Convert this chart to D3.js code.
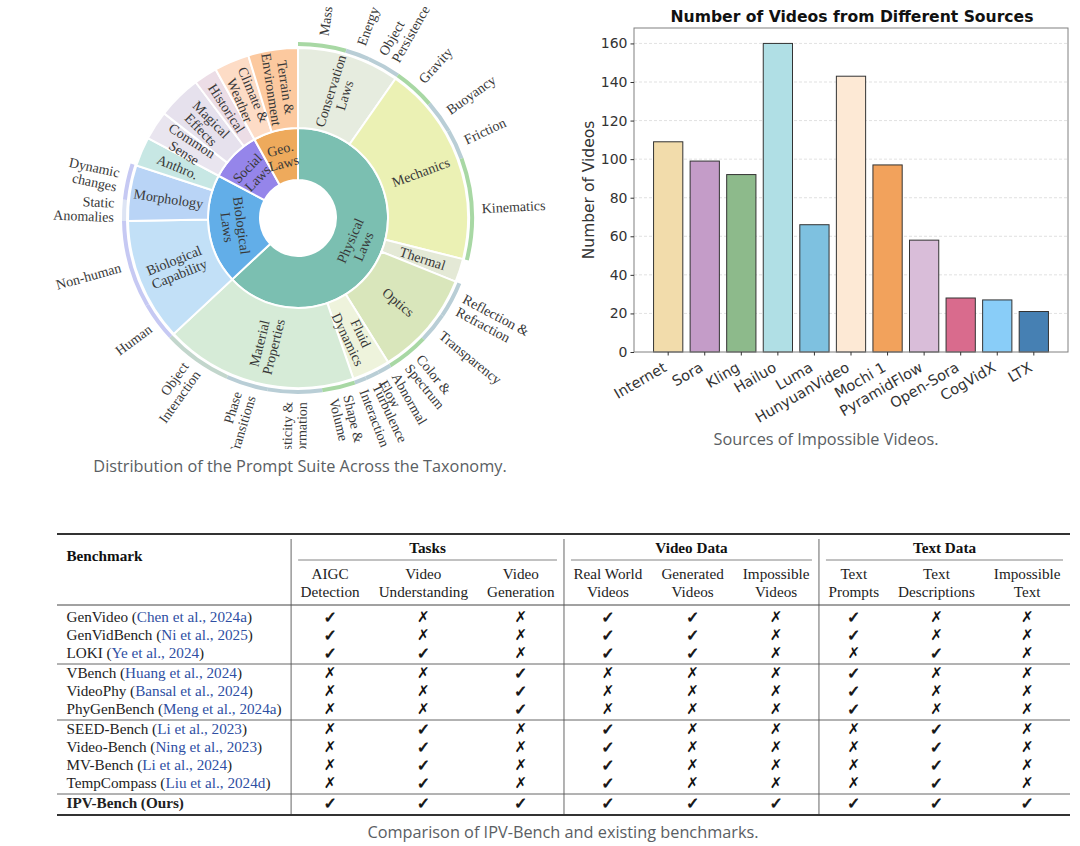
<!DOCTYPE html>
<html><head><meta charset="utf-8">
<script src="https://cdn.jsdelivr.net/npm/d3@7"></script>
<style>body{margin:0;background:#fff} svg{display:block}</style>
</head><body>
<svg id="fig" width="1080" height="846"></svg>
<script>
// ================= DATA =================
// Sunburst taxonomy (values = share of the prompt suite, read as angular share)
const domains = ["Physical\nLaws", "Biological\nLaws", "Social\nLaws", "Geo.\nLaws"];
const categories = [
  ["Conservation\nLaws", "Physical\nLaws", null],
  ["Mechanics", "Physical\nLaws", null],
  ["Thermal", "Physical\nLaws", 8],
  ["Optics", "Physical\nLaws", null],
  ["Fluid\nDynamics", "Physical\nLaws", null],
  ["Material\nProperties", "Physical\nLaws", null],
  ["Biological\nCapability", "Biological\nLaws", null],
  ["Morphology", "Biological\nLaws", null],
  ["Anthro.", "Biological\nLaws", 10],
  ["Common\nSense", "Social\nLaws", 10],
  ["Magical\nEffects", "Social\nLaws", 15],
  ["Historical", "Social\nLaws", 8],
  ["Climate &\nWeather", "Geo.\nLaws", 12],
  ["Terrain &\nEnvironment", "Geo.\nLaws", 17]
];
const subcategories = [
  ["Mass", "Conservation\nLaws", 16],
  ["Energy", "Conservation\nLaws", 8],
  ["Object\nPersistence", "Conservation\nLaws", 11],
  ["Gravity", "Mechanics", 14],
  ["Buoyancy", "Mechanics", 11],
  ["Friction", "Mechanics", 10],
  ["Kinematics", "Mechanics", 34],
  ["Reflection &\nRefraction", "Optics", 12],
  ["Transparency", "Optics", 10],
  ["Color &\nSpectrum", "Optics", 14],
  ["Abnormal\nFlow", "Fluid\nDynamics", 4.5],
  ["Turbulence", "Fluid\nDynamics", 4.5],
  ["Interaction", "Fluid\nDynamics", 4],
  ["Shape &\nVolume", "Material\nProperties", 11],
  ["Plasticity &\nDeformation", "Material\nProperties", 18],
  ["Phase\nTransitions", "Material\nProperties", 14],
  ["Object\nInteraction", "Material\nProperties", 23],
  ["Human", "Biological\nCapability", 13],
  ["Non-human", "Biological\nCapability", 29],
  ["Static\nAnomalies", "Morphology", 7],
  ["Dynamic\nchanges", "Morphology", 12]
];

// Bar chart
const sources = ["Internet", "Sora", "Kling", "Hailuo", "Luma", "HunyuanVideo", "Mochi 1", "PyramidFlow", "Open-Sora", "CogVidX", "LTX"];
const videoCounts = [109, 99, 92, 160, 66, 143, 97, 58, 28, 27, 21];
const yTicks = [0, 20, 40, 60, 80, 100, 120, 140, 160];

// Table
const groupNames = ["Tasks", "Video Data", "Text Data"];
const columnHeads = [["AIGC", "Detection"], ["Video", "Understanding"], ["Video", "Generation"],
  ["Real World", "Videos"], ["Generated", "Videos"], ["Impossible", "Videos"],
  ["Text", "Prompts"], ["Text", "Descriptions"], ["Impossible", "Text"]];
const benchmarks = ["GenVideo", "GenVidBench", "LOKI", "VBench", "VideoPhy", "PhyGenBench",
  "SEED-Bench", "Video-Bench", "MV-Bench", "TempCompass", "IPV-Bench (Ours)"];
const citations = ["Chen et al., 2024a", "Ni et al., 2025", "Ye et al., 2024", "Huang et al., 2024",
  "Bansal et al., 2024", "Meng et al., 2024a", "Li et al., 2023", "Ning et al., 2023",
  "Li et al., 2024", "Liu et al., 2024d", null];
const rowGroups = [0, 0, 0, 1, 1, 1, 2, 2, 2, 2, 3];
const support = [
  [1,0,0, 1,1,0, 1,0,0],
  [1,0,0, 1,1,0, 1,0,0],
  [1,1,0, 1,1,0, 0,1,0],
  [0,0,1, 0,0,0, 1,0,0],
  [0,0,1, 0,0,0, 1,0,0],
  [0,0,1, 0,0,0, 1,0,0],
  [0,1,0, 1,0,0, 0,1,0],
  [0,1,0, 1,0,0, 0,1,0],
  [0,1,0, 1,0,0, 0,1,0],
  [0,1,0, 1,0,0, 0,1,0],
  [1,1,1, 1,1,1, 1,1,1]
];

// ================= STYLES =================
const SERIF = "'Liberation Serif','Times New Roman',serif";
const SANS = "'DejaVu Sans',sans-serif";
const CAP = "'Open Sans','Roboto',sans-serif";
const sbColors = {
  "Physical\nLaws": "#7bbfb1", "Biological\nLaws": "#62aee8", "Social\nLaws": "#9585ea", "Geo.\nLaws": "#eeaa5c",
  "Conservation\nLaws": "#e6ecdf", "Mechanics": "#ebf1b4", "Thermal": "#e4e9d6", "Optics": "#d9e6bb",
  "Fluid\nDynamics": "#eef3dc", "Material\nProperties": "#d6ebd7", "Biological\nCapability": "#c2e0f7",
  "Morphology": "#b9d4f6", "Anthro.": "#c7e7e4", "Common\nSense": "#e9e5ef", "Magical\nEffects": "#e6e1ed",
  "Historical": "#ecdde6", "Climate &\nWeather": "#fddcc6", "Terrain &\nEnvironment": "#fcc99f"
};
const G = "#a8d8a4", B = "#b9ced6", L = "#c6c9f3", P = "#dde4f4";
const leafColors = {
  "Mass": G, "Energy": B, "Object\nPersistence": B, "Gravity": G, "Buoyancy": B, "Friction": B, "Kinematics": G,
  "Reflection &\nRefraction": B, "Transparency": B, "Color &\nSpectrum": G, "Abnormal\nFlow": B, "Turbulence": B,
  "Interaction": B, "Shape &\nVolume": G, "Plasticity &\nDeformation": B, "Phase\nTransitions": B,
  "Object\nInteraction": "#c2d6cc", "Human": L, "Non-human": L, "Static\nAnomalies": P, "Dynamic\nchanges": L
};
const barColors = ["#f2dcab", "#c49cc8", "#8dba8b", "#b0dfe5", "#7ec1e0", "#fde9d5", "#f2a25c", "#d9bdd9", "#d96b8d", "#89cdf8", "#4680b3"];

const svg = d3.select("#fig");
const defs = svg.append("defs");
defs.append("clipPath").attr("id", "sbclip").append("rect").attr("x", 0).attr("y", 0).attr("width", 570).attr("height", 449);

function multiline(sel, text, lh) {
  const lines = text.split("\n");
  lines.forEach((l, i) => sel.append("tspan").attr("x", 0).attr("y", (i - (lines.length - 1) / 2) * lh).attr("dy", "0.35em").text(l));
}

// ================= SUNBURST =================
const cx = 298, cy = 218;
const sb = svg.append("g").attr("clip-path", "url(#sbclip)").append("g").attr("transform", `translate(${cx},${cy})`);
const rows = [{id: "root"}];
domains.forEach(d => rows.push({id: d, parent: "root"}));
categories.forEach(([n, p, v]) => rows.push({id: n, parent: p, value: v}));
subcategories.forEach(([n, p, v]) => rows.push({id: n, parent: p, value: v}));
const root = d3.stratify().id(d => d.id).parentId(d => d.parent)(rows).sum(d => d.value || 0);
d3.partition().size([2 * Math.PI, 1])(root);
const rIn = [0, 38, 90, 172], rOut = [0, 90, 170, 176];
const arc = d3.arc().startAngle(d => d.x0).endAngle(d => d.x1)
  .innerRadius(d => rIn[d.depth]).outerRadius(d => rOut[d.depth]);
const nodes = root.descendants().filter(d => d.depth > 0);
sb.selectAll("path.ring").data(nodes.filter(d => d.depth < 3)).join("path").attr("class", "ring")
  .attr("d", arc).attr("fill", d => sbColors[d.id]).attr("stroke", "#fff").attr("stroke-width", 2);
sb.selectAll("path.leaf").data(nodes.filter(d => d.depth === 3)).join("path").attr("class", "leaf")
  .attr("d", arc).attr("fill", d => leafColors[d.id]);

nodes.forEach(d => {
  const a = (d.x0 + d.x1) / 2, A = a * 180 / Math.PI;
  let r, rot, anchor = "middle";
  if (d.depth === 1) { r = 64; rot = (A > 90 && A < 270) ? A - 180 : A; }
  else if (d.depth === 2) { r = 131; rot = A < 180 ? A - 90 : A + 90; }
  else { r = 184; rot = A < 180 ? A - 90 : A + 90; anchor = A < 180 ? "start" : "end"; }
  const t = sb.append("text")
    .attr("transform", `translate(${r * Math.sin(a)},${-r * Math.cos(a)}) rotate(${rot})`)
    .attr("text-anchor", anchor).attr("font-family", SERIF).attr("font-size", 14).attr("fill", "#383838");
  multiline(t, d.id, 14.5);
});

svg.append("text").attr("x", 300).attr("y", 466).attr("dy", "0.35em").attr("text-anchor", "middle")
  .attr("font-family", CAP).attr("font-size", 16.3).attr("fill", "#5a5e63")
  .text("Distribution of the Prompt Suite Across the Taxonomy.");

// ================= BAR CHART =================
const bx0 = 634, bx1 = 1068, by0 = 28, by1 = 352;
const x = d3.scaleBand().domain(sources).range([bx0, bx1]).paddingInner(0.2).paddingOuter(0.535);
const y = d3.scaleLinear().domain([0, 168]).range([by1, by0]);
const bc = svg.append("g");
bc.append("g").selectAll("line").data(yTicks.slice(1)).join("line")
  .attr("x1", bx0).attr("x2", bx1).attr("y1", d => y(d)).attr("y2", d => y(d))
  .attr("stroke", "#d9d9d9").attr("stroke-width", 0.8).attr("stroke-dasharray", "3,2");
bc.append("g").selectAll("rect").data(videoCounts).join("rect")
  .attr("x", (d, i) => x(sources[i])).attr("width", x.bandwidth())
  .attr("y", d => y(d)).attr("height", d => y(0) - y(d))
  .attr("fill", (d, i) => barColors[i]).attr("stroke", "#333").attr("stroke-width", 1);
bc.append("rect").attr("x", bx0).attr("y", by0).attr("width", bx1 - bx0).attr("height", by1 - by0)
  .attr("fill", "none").attr("stroke", "#808080").attr("stroke-width", 1);
const yAx = bc.append("g").attr("transform", `translate(${bx0},0)`)
  .call(d3.axisLeft(y).tickValues(yTicks).tickSize(3.5).tickPadding(3));
yAx.select(".domain").remove();
yAx.selectAll("line").attr("stroke", "#333");
yAx.selectAll("text").attr("font-family", SANS).attr("font-size", 14).attr("fill", "#333");
const xAx = bc.append("g").attr("transform", `translate(0,${by1})`)
  .call(d3.axisBottom(x).tickSize(3.5));
xAx.select(".domain").remove();
xAx.selectAll("line").attr("stroke", "#333");
xAx.selectAll("text").attr("font-family", SANS).attr("font-size", 14.5).attr("fill", "#333")
  .attr("text-anchor", "end").attr("x", 0).attr("y", 0).attr("dy", "0.35em")
  .attr("transform", "translate(-3,14) rotate(-30)");
bc.append("text").attr("x", (bx0 + bx1) / 2 + 1).attr("y", 22).attr("text-anchor", "middle")
  .attr("font-family", SANS).attr("font-weight", "bold").attr("font-size", 15.6).attr("fill", "#111")
  .text("Number of Videos from Different Sources");
bc.append("text").attr("transform", `translate(589,${(by0 + by1) / 2}) rotate(-90)`).attr("dy", "0.35em")
  .attr("text-anchor", "middle").attr("font-family", SANS).attr("font-size", 15.5).attr("fill", "#333")
  .text("Number of Videos");
svg.append("text").attr("x", 826).attr("y", 439).attr("dy", "0.35em").attr("text-anchor", "middle")
  .attr("font-family", CAP).attr("font-size", 16.3).attr("fill", "#5a5e63")
  .text("Sources of Impossible Videos.");

// ================= TABLE =================
const tb = svg.append("g");
const FS = 15.2;
function textW(str, weight) {
  const t = tb.append("text").attr("font-family", SERIF).attr("font-size", FS).attr("font-weight", weight || "normal").text(str);
  const w = t.node().getComputedTextLength(); t.remove(); return w;
}
const tx0 = 57, tx1 = 1070;
const benchW = d3.max(benchmarks, (b, i) => textW(citations[i] ? `${b} (${citations[i]})` : b, citations[i] ? "normal" : "bold"));
const colW = columnHeads.map(c => d3.max(c, s => textW(s)));
const pad = (tx1 - tx0 - benchW - d3.sum(colW)) / (2 * (colW.length + 1));
const bounds = [tx0, tx0 + benchW + 2 * pad];
colW.forEach(w => bounds.push(bounds[bounds.length - 1] + w + 2 * pad));
const colX = d3.scaleOrdinal().domain(d3.range(colW.length)).range(colW.map((w, i) => (bounds[i + 1] + bounds[i + 2]) / 2));
const groupSpan = g => [bounds[1 + g * 3], bounds[4 + g * 3]];
const rowY = i => 617 + i * 18 + rowGroups[i] * 2;

const ruleTop = 534, ruleHead = 605, ruleBot = 815;
tb.append("line").attr("x1", tx0).attr("x2", tx1).attr("y1", ruleTop).attr("y2", ruleTop).attr("stroke", "#333").attr("stroke-width", 1.8);
tb.append("line").attr("x1", tx0).attr("x2", tx1).attr("y1", ruleBot).attr("y2", ruleBot).attr("stroke", "#333").attr("stroke-width", 1.8);
tb.append("line").attr("x1", tx0).attr("x2", tx1).attr("y1", ruleHead).attr("y2", ruleHead).attr("stroke", "#444").attr("stroke-width", 1);
for (let i = 1; i < benchmarks.length; i++) {
  if (rowGroups[i] !== rowGroups[i - 1]) {
    const yy = (rowY(i) + rowY(i - 1)) / 2 + 1;
    tb.append("line").attr("x1", tx0).attr("x2", tx1).attr("y1", yy).attr("y2", yy).attr("stroke", "#555").attr("stroke-width", 0.9);
  }
}
[1, 4, 7].forEach(k => tb.append("line").attr("x1", bounds[k]).attr("x2", bounds[k]).attr("y1", ruleTop + 5).attr("y2", ruleBot - 1)
  .attr("stroke", "#555").attr("stroke-width", 0.9));
groupNames.forEach((g, gi) => {
  const [a, b] = groupSpan(gi);
  tb.append("text").attr("x", (a + b) / 2).attr("y", 548).attr("dy", "0.35em").attr("text-anchor", "middle")
    .attr("font-family", SERIF).attr("font-weight", "bold").attr("font-size", FS).attr("fill", "#111").text(g);
  tb.append("line").attr("x1", a + 7).attr("x2", b - 7).attr("y1", 560).attr("y2", 560).attr("stroke", "#666").attr("stroke-width", 0.8);
});
tb.append("text").attr("x", tx0 + pad).attr("y", 556).attr("dy", "0.35em").attr("font-family", SERIF)
  .attr("font-weight", "bold").attr("font-size", FS).attr("fill", "#111").text("Benchmark");
columnHeads.forEach((c, i) => c.forEach((s, j) => tb.append("text").attr("x", colX(i)).attr("y", 574 + j * 17.5)
  .attr("dy", "0.35em").attr("text-anchor", "middle").attr("font-family", SERIF).attr("font-size", FS).attr("fill", "#222").text(s)));
benchmarks.forEach((b, i) => {
  const t = tb.append("text").attr("x", tx0 + pad).attr("y", rowY(i)).attr("dy", "0.35em")
    .attr("font-family", SERIF).attr("font-size", FS).attr("fill", "#222");
  if (citations[i]) {
    t.append("tspan").text(b + " (");
    t.append("tspan").attr("fill", "#2f4fa3").text(citations[i]);
    t.append("tspan").text(")");
  } else {
    t.attr("font-weight", "bold").text(b);
  }
  support[i].forEach((v, j) => tb.append("text").attr("x", colX(j)).attr("y", rowY(i)).attr("dy", "0.35em")
    .attr("text-anchor", "middle").attr("font-family", SANS).attr("font-weight", "bold")
    .attr("font-size", v ? 16 : 15).attr("fill", "#111")
    .attr("stroke", v ? "#111" : "none").attr("stroke-width", v ? 0.7 : 0)
    .text(v ? "\u2713" : "\u2717"));
});
svg.append("text").attr("x", 563).attr("y", 832).attr("dy", "0.35em").attr("text-anchor", "middle")
  .attr("font-family", CAP).attr("font-size", 16.3).attr("fill", "#5a5e63")
  .text("Comparison of IPV-Bench and existing benchmarks.");
</script>
</body></html>
